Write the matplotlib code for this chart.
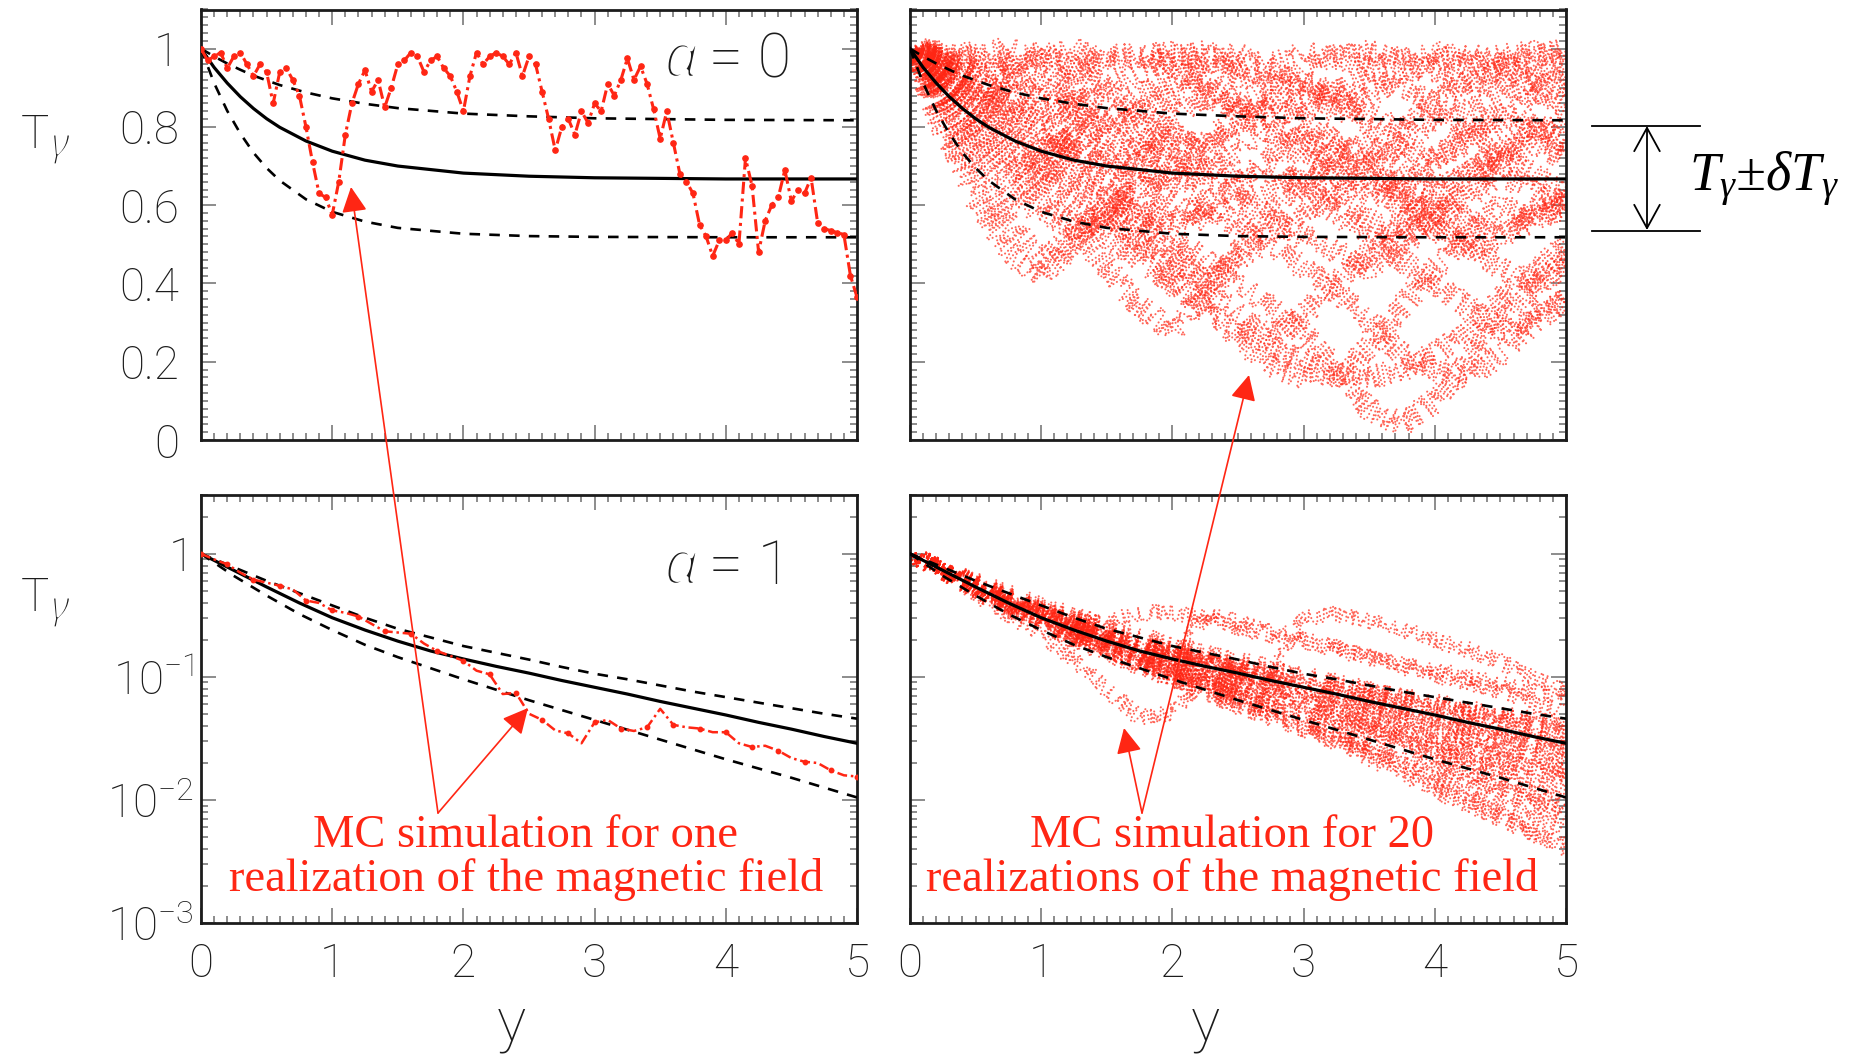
import numpy as np
import matplotlib
matplotlib.use('Agg')
import matplotlib.pyplot as plt
import matplotlib.patheffects as pe
from matplotlib.ticker import MultipleLocator, FixedLocator, FixedFormatter, LogLocator, NullFormatter
from matplotlib.patches import FancyArrowPatch, ArrowStyle
from matplotlib.lines import Line2D

plt.rcParams['font.family'] = ['Roboto', 'DejaVu Sans']
plt.rcParams['font.weight'] = 'light'
plt.rcParams['mathtext.default'] = 'regular'

W, H = 1856, 1055          # output size in pixels
RED = '#ff2614'
INK = '#1c1c1c'

# ---------------- data ----------------
# theory curves, linear panel (alpha = 0)
theory_y_lin = [0, 0.1, 0.2, 0.3, 0.4, 0.5, 0.6, 0.8, 1.0, 1.25, 1.5, 2.0, 2.5, 3.0, 4.0, 5.0]
T_mean_lin = [1.0, .952, .912, .877, .847, .821, .799, .764, .738, .715, .700, .682, .674, .670, .667, .667]
T_upper_lin = [1.0, .980, .962, .946, .931, .919, .907, .888, .873, .859, .848, .834, .827, .822, .818, .817]
T_lower_lin = [1.0, .912, .841, .783, .734, .695, .663, .615, .583, .558, .542, .527, .521, .519, .518, .518]

# theory curves, log panel (alpha = 1), values are log10(T) read on the decade axis
theory_y_log = [0, .25, .5, .75, 1, 1.25, 1.5, 1.75, 2, 2.25, 2.5, 2.75, 3, 3.25, 3.5, 3.75, 4, 4.25, 4.5, 4.75, 5]
logT_mean = [0, -.135, -.27, -.40, -.52, -.62, -.71, -.79, -.855, -.915, -.97, -1.03, -1.085, -1.14, -1.20,
             -1.255, -1.31, -1.37, -1.425, -1.485, -1.54]
logT_upper = [0, -.11, -.22, -.32, -.42, -.52, -.61, -.68, -.75, -.805, -.86, -.92, -.975, -1.02, -1.07,
              -1.12, -1.165, -1.21, -1.255, -1.30, -1.34]
logT_lower = [0, -.18, -.34, -.49, -.62, -.74, -.84, -.93, -1.02, -1.105, -1.19, -1.27, -1.35, -1.43, -1.51,
              -1.59, -1.67, -1.745, -1.82, -1.90, -1.98]

# one MC realization, alpha = 0 (sampled every 0.05 in y)
one_y_lin = np.linspace(0, 5, 101)
one_T_lin = [1.00, .97, .98, .99, .95, .98, .99, .96, .93, .96,
             .94, .86, .94, .95, .92, .88, .80, .71, .63, .62,
             .575, .66, .78, .86, .91, .945, .89, .92, .85, .90,
             .96, .97, .99, .98, .94, .97, .98, .95, .93, .89,
             .84, .93, .99, .96, .98, .99, .98, .96, .99, .93,
             .98, .96, .89, .82, .74, .80, .82, .78, .84, .81,
             .86, .84, .91, .88, .92, .975, .92, .955, .91, .845,
             .77, .84, .76, .68, .66, .63, .55, .52, .47, .51,
             .51, .53, .50, .72, .65, .48, .56, .60, .62, .69,
             .61, .64, .63, .67, .555, .54, .535, .53, .525, .42,
             .365]

# one MC realization, alpha = 1 (log10 T, sampled every 0.1 in y)
one_y_log = np.linspace(0, 5, 51)
one_logT = [0, -.046, -.086, -.154, -.21, -.235, -.26, -.29, -.38, -.40,
            -.46, -.48, -.51, -.57, -.63, -.64, -.65, -.73, -.79, -.83,
            -.87, -.95, -.98, -1.14, -1.13, -1.30, -1.35, -1.435, -1.46, -1.54,
            -1.37, -1.35, -1.42, -1.44, -1.41, -1.26, -1.39, -1.41, -1.42, -1.45,
            -1.45, -1.54, -1.57, -1.56, -1.60, -1.66, -1.69, -1.70, -1.76, -1.80,
            -1.81]

# 20 MC realizations (every 0.25 in y)
mc_y = [0, .25, .5, .75, 1, 1.25, 1.5, 1.75, 2, 2.25, 2.5, 2.75, 3, 3.25, 3.5, 3.75, 4, 4.25, 4.5, 4.75, 5]
mc20_T_lin = [
    [1, .97, .99, .95, .97, 1.0, .96, .98, .99, .97, .93, .96, .99, .98, .95, .97, .99, .96, .98, .99, .97],
    [1, .92, .88, .84, .90, .86, .80, .83, .88, .91, .86, .82, .85, .89, .93, .90, .86, .84, .88, .92, .89],
    [1, .80, .62, .48, .42, .50, .62, .70, .78, .74, .80, .86, .92, .88, .83, .79, .86, .92, .95, .90, .85],
    [1, .88, .78, .70, .62, .55, .44, .34, .28, .36, .48, .58, .66, .72, .76, .70, .64, .68, .74, .80, .76],
    [1, .93, .85, .78, .70, .64, .58, .50, .42, .34, .26, .19, .16, .16, .24, .34, .44, .52, .60, .56, .62],
    [1, .96, .90, .85, .80, .72, .66, .60, .52, .46, .40, .34, .27, .18, .08, .04, .10, .20, .30, .38, .46],
    [1, .94, .90, .92, .86, .80, .74, .70, .66, .60, .55, .50, .44, .38, .30, .22, .18, .16, .22, .30, .36],
    [1, .97, .93, .88, .82, .86, .90, .84, .78, .72, .66, .70, .64, .58, .52, .46, .40, .34, .28, .30, .36],
    [1, .90, .82, .76, .70, .66, .62, .58, .55, .60, .66, .72, .78, .74, .70, .64, .60, .56, .52, .58, .62],
    [1, .98, .94, .96, .99, .95, .90, .94, .98, .99, .96, .92, .88, .84, .88, .93, .97, .99, .96, .93, .97],
    [1, .86, .72, .64, .58, .54, .58, .64, .70, .66, .62, .56, .52, .48, .44, .50, .56, .62, .68, .64, .58],
    [1, .91, .86, .80, .74, .78, .82, .88, .92, .96, .99, .95, .90, .86, .80, .76, .72, .76, .82, .88, .94],
    [1, .95, .88, .82, .76, .70, .64, .56, .48, .40, .32, .26, .32, .40, .48, .56, .62, .68, .72, .78, .82],
    [1, .99, .97, .94, .90, .84, .78, .74, .70, .76, .82, .86, .82, .76, .70, .62, .56, .50, .44, .40, .44],
    [1, .82, .68, .56, .46, .52, .58, .52, .46, .40, .46, .52, .58, .64, .70, .76, .82, .78, .72, .68, .62],
    [1, .96, .98, 1.0, .97, .94, .98, .99, .95, .90, .86, .90, .95, .98, .99, .97, .94, .90, .94, .98, 1.0],
    [1, .89, .80, .72, .66, .60, .52, .46, .40, .34, .28, .24, .20, .17, .16, .18, .22, .28, .36, .42, .50],
    [1, .93, .86, .92, .96, .90, .84, .78, .72, .68, .74, .80, .76, .70, .66, .60, .54, .48, .52, .56, .60],
    [1, .97, .92, .86, .80, .74, .70, .76, .82, .88, .84, .78, .72, .68, .62, .66, .72, .78, .84, .80, .74],
    [1, .88, .76, .68, .72, .78, .72, .66, .60, .56, .60, .64, .68, .62, .56, .52, .58, .64, .70, .76, .72],
]
mc20_logT = [
    [0, -.12, -.24, -.36, -.46, -.56, -.66, -.74, -.80, -.86, -.92, -.98, -.52, -.49, -.55, -.62, -.70, -.78, -.88, -1.00, -1.12],
    [0, -.12, -.25, -.36, -.46, -.52, -.56, -.48, -.48, -.52, -.60, -.66, -.73, -.78, -.84, -.90, -.95, -1.00, -1.06, -1.12, -1.17],
    [0, -.14, -.27, -.40, -.52, -.62, -.72, -.80, -.88, -.50, -.55, -.62, -.70, -.76, -.84, -.92, -.98, -1.05, -1.12, -1.20, -1.28],
    [0, -.15, -.32, -.50, -.66, -.86, -1.10, -1.33, -1.30, -1.00, -1.02, -1.10, -1.18, -1.26, -1.34, -1.42, -1.50, -1.58, -1.66, -1.74, -1.82],
    [0, -.15, -.30, -.44, -.58, -.70, -.82, -.92, -1.02, -1.12, -1.20, -1.30, -1.40, -1.50, -1.62, -1.74, -1.86, -1.98, -2.12, -2.26, -2.40],
    [0, -.13, -.26, -.38, -.49, -.60, -.69, -.78, -.86, -.94, -1.00, -1.06, -1.12, -1.18, -1.26, -1.34, -1.42, -1.50, -1.58, -1.66, -1.75],
    [0, -.12, -.22, -.32, -.42, -.50, -.58, -.66, -.74, -.80, -.86, -.92, -.98, -1.04, -1.10, -1.16, -1.22, -1.28, -1.32, -1.38, -1.44],
    [0, -.14, -.28, -.42, -.55, -.66, -.76, -.86, -.96, -1.04, -1.12, -1.22, -1.32, -1.40, -1.46, -1.52, -1.60, -1.70, -1.80, -1.92, -2.02],
    [0, -.13, -.25, -.37, -.48, -.58, -.67, -.74, -.80, -.86, -.90, -.95, -1.00, -1.06, -1.12, -1.16, -1.20, -1.26, -1.30, -1.34, -1.38],
    [0, -.14, -.28, -.41, -.54, -.66, -.78, -.90, -1.02, -1.14, -1.24, -1.34, -1.44, -1.52, -1.60, -1.70, -1.80, -1.92, -2.04, -2.14, -2.24],
    [0, -.12, -.23, -.34, -.44, -.54, -.62, -.70, -.78, -.86, -.94, -1.02, -1.10, -1.18, -1.24, -1.30, -1.36, -1.42, -1.48, -1.54, -1.60],
    [0, -.15, -.30, -.45, -.58, -.70, -.80, -.88, -.95, -1.02, -1.08, -1.14, -1.22, -1.30, -1.38, -1.46, -1.54, -1.62, -1.68, -1.74, -1.80],
    [0, -.13, -.26, -.39, -.50, -.60, -.68, -.76, -.84, -.92, -.98, -1.04, -1.10, -1.16, -1.22, -1.28, -1.34, -1.40, -1.46, -1.52, -1.58],
    [0, -.14, -.27, -.40, -.52, -.63, -.73, -.83, -.92, -1.00, -1.08, -1.16, -1.24, -1.34, -1.44, -1.54, -1.66, -1.78, -1.90, -2.02, -2.16],
    [0, -.12, -.24, -.35, -.46, -.56, -.65, -.73, -.81, -.88, -.95, -1.00, -1.05, -1.10, -1.16, -1.20, -1.24, -1.28, -1.34, -1.40, -1.46],
    [0, -.14, -.28, -.42, -.56, -.68, -.78, -.88, -.97, -1.06, -1.16, -1.26, -1.36, -1.46, -1.56, -1.64, -1.72, -1.82, -1.92, -2.00, -2.08],
    [0, -.13, -.26, -.38, -.50, -.61, -.71, -.81, -.90, -.98, -1.06, -1.13, -1.20, -1.26, -1.32, -1.38, -1.44, -1.50, -1.56, -1.62, -1.68],
    [0, -.12, -.24, -.36, -.48, -.59, -.70, -.80, -.92, -1.04, -1.14, -1.24, -1.30, -1.36, -1.42, -1.50, -1.58, -1.66, -1.74, -1.84, -1.94],
    [0, -.13, -.25, -.36, -.47, -.57, -.66, -.74, -.82, -.88, -.94, -1.00, -1.06, -1.12, -1.18, -1.24, -1.30, -1.36, -1.42, -1.48, -1.54],
    [0, -.15, -.29, -.43, -.56, -.68, -.79, -.89, -.98, -1.08, -1.18, -1.30, -1.42, -1.54, -1.66, -1.78, -1.92, -2.04, -2.16, -2.28, -2.36],
]

lin_ticks = [0, 0.2, 0.4, 0.6, 0.8, 1.0]
lin_labels = ['0', '0.2', '0.4', '0.6', '0.8', '1']
log_ticks = [1e-3, 1e-2, 1e-1, 1]
log_labels = ['$10^{-3}$', '$10^{-2}$', '$10^{-1}$', '1']
x_labels = ['0', '1', '2', '3', '4', '5']


# ---------------- figure ----------------
fig = plt.figure(figsize=(W / 100, H / 100), dpi=100)


def fxy(x, y):  # pixel (top-left origin) -> figure fraction
    return x / W, 1 - y / H


def panel(x0, y0, x1, y1):
    return fig.add_axes([x0 / W, 1 - y1 / H, (x1 - x0) / W, (y1 - y0) / H])


def style(ax, logy, show_x, show_y):
    ax.set_xlim(0, 5)
    ax.xaxis.set_major_locator(FixedLocator(range(6)))
    ax.xaxis.set_major_formatter(FixedFormatter(x_labels))
    ax.xaxis.set_minor_locator(MultipleLocator(0.1))
    if logy:
        ax.set_yscale('log')
        ax.set_ylim(1e-3, 3)
        ax.yaxis.set_major_locator(FixedLocator(log_ticks))
        ax.yaxis.set_major_formatter(FixedFormatter(log_labels))
        ax.yaxis.set_minor_locator(LogLocator(base=10, subs=np.arange(2, 10)))
        ax.yaxis.set_minor_formatter(NullFormatter())
    else:
        ax.set_ylim(0, 1.1)
        ax.yaxis.set_major_locator(FixedLocator(lin_ticks))
        ax.yaxis.set_major_formatter(FixedFormatter(lin_labels))
        ax.yaxis.set_minor_locator(MultipleLocator(0.02))
    ax.tick_params(which='both', direction='in', top=True, right=True, color='#8c8c8c', width=1.4,
                   labelsize=33, labelcolor=INK)
    ax.tick_params(which='major', length=11)
    ax.tick_params(which='minor', length=5)
    ax.tick_params(axis='x', pad=14, labelbottom=show_x)
    ax.tick_params(axis='y', pad=5 if logy else 16, labelleft=show_y)
    for s in ax.spines.values():
        s.set_linewidth(2.0)
        s.set_color(INK)


def theory(ax, y, mean, upper, lower):
    ax.plot(y, mean, color='black', lw=2.3, zorder=4)
    ax.plot(y, upper, color='black', lw=1.9, ls=(0, (4, 3.5)), zorder=4)
    ax.plot(y, lower, color='black', lw=1.9, ls=(0, (4, 3.5)), zorder=4)


def speckle(ax, y, T, jitter):
    # dotted trace, the sketch style scatters the dots like the MC points
    line, = ax.plot(y, T, color=RED, lw=1.5, ls=(0, (0.05, 1.9)), dash_capstyle='round',
                    alpha=0.7, zorder=2)
    line.set_sketch_params(scale=jitter, length=4, randomness=30)


def greek(x, y, s, size, erode):
    # thin italic greek letter: a white stroke eats into the glyph outline
    fig.text(*fxy(x, y), s, family=['Noto Sans', 'DejaVu Sans'], style='italic', fontsize=size,
             ha='left', va='baseline', color=INK,
             path_effects=[pe.Stroke(linewidth=erode, foreground='white')])


ax_tl = panel(201, 9.5, 857, 440)
ax_tr = panel(910, 9.5, 1566, 440)
ax_bl = panel(201, 495, 857, 923)
ax_br = panel(910, 495, 1566, 923)

style(ax_tl, False, False, True)
style(ax_tr, False, False, False)
style(ax_bl, True, True, True)
style(ax_br, True, True, False)

# top row: alpha = 0
theory(ax_tl, theory_y_lin, T_mean_lin, T_upper_lin, T_lower_lin)
ax_tl.plot(one_y_lin, one_T_lin, color=RED, lw=2.2, ls=(0, (4, 1.5, 1, 1.5)),
           marker='o', ms=3.8, markevery=1, zorder=5)

theory(ax_tr, theory_y_lin, T_mean_lin, T_upper_lin, T_lower_lin)
for trace in mc20_T_lin:
    speckle(ax_tr, mc_y, trace, 12)

# bottom row: alpha = 1
theory(ax_bl, theory_y_log, 10 ** np.array(logT_mean), 10 ** np.array(logT_upper), 10 ** np.array(logT_lower))
ax_bl.plot(one_y_log, 10 ** np.array(one_logT), color=RED, lw=1.8, ls=(0, (4, 1.5, 1, 1.5)),
           marker='o', ms=3.2, markevery=2, zorder=5)

theory(ax_br, theory_y_log, 10 ** np.array(logT_mean), 10 ** np.array(logT_upper), 10 ** np.array(logT_lower))
for trace in mc20_logT:
    speckle(ax_br, mc_y, 10 ** np.array(trace), 8)

# alpha labels
for yb, val in ((77, '0'), (584, '1')):
    greek(664, yb, 'α', 44, 2.6)
    fig.text(*fxy(709, yb), '= ' + val, fontsize=44, ha='left', va='baseline', color=INK)

# axis titles (T with a gamma index)
for yb in (148, 611):
    fig.text(*fxy(21, yb), 'T', fontsize=34, ha='left', va='baseline', color=INK)
    greek(51, yb + 8, 'γ', 29, 1.6)
for xc in (511, 1205):
    fig.text(*fxy(xc, 1024), 'y', fontsize=44, ha='center', va='center', color=INK)

# red annotations
serif = ['Liberation Serif', 'DejaVu Serif']
fig.text(*fxy(526, 858), 'MC simulation for one\nrealization of the magnetic field', family=serif,
         fontsize=33.5, color=RED, ha='center', va='center', linespacing=1.03)
fig.text(*fxy(1232, 858), 'MC simulation for 20\nrealizations of the magnetic field', family=serif,
         fontsize=33.5, color=RED, ha='center', va='center', linespacing=1.03)

head = ArrowStyle('-|>', head_length=0.6, head_width=0.3)
for (xa, ya), (xb, yb) in [((438, 813), (351, 187)), ((438, 813), (528, 708)),
                           ((1142, 813), (1124, 728)), ((1142, 813), (1249, 375))]:
    fig.add_artist(FancyArrowPatch(fxy(xa, ya), fxy(xb, yb), transform=fig.transFigure,
                                   arrowstyle=head, mutation_scale=26, color=RED, lw=1.2,
                                   shrinkA=0, shrinkB=0))

# T +- dT bracket on the right
for yl in (125.7, 231):
    fig.add_artist(Line2D([1592 / W, 1700 / W], [1 - yl / H] * 2, transform=fig.transFigure,
                          color='black', lw=1.3))
fig.add_artist(FancyArrowPatch(fxy(1647, 126), fxy(1647, 230), transform=fig.transFigure,
                               arrowstyle=ArrowStyle('<->', head_length=0.42, head_width=0.23),
                               mutation_scale=40, color='black', lw=1.3, shrinkA=0, shrinkB=0))
fig.text(*fxy(1689, 150), 'T$_{γ}$±δT$_{γ}$', family=serif, style='italic',
         fontsize=39, ha='left', va='top', color='black')

fig.savefig('out.png', dpi=100, facecolor='white')
